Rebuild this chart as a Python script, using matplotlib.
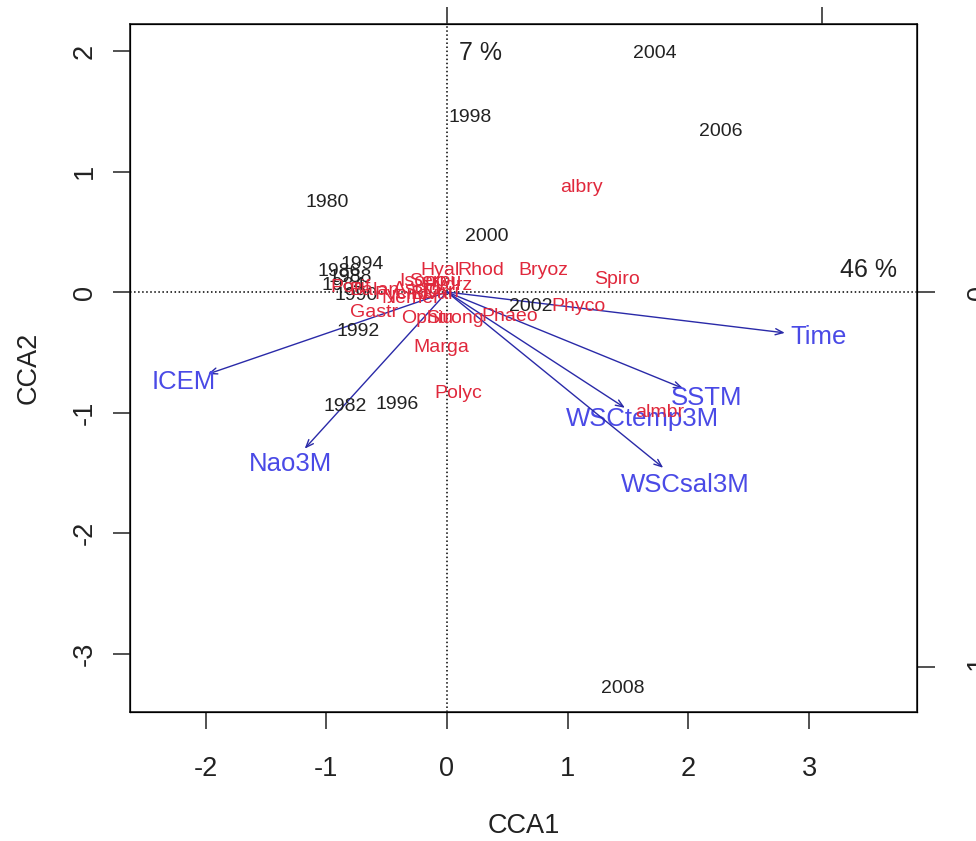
import numpy as np
import matplotlib
matplotlib.use('Agg')
import matplotlib.pyplot as plt

plt.rcParams['font.family'] = ['Liberation Sans', 'DejaVu Sans']
plt.rcParams['axes.unicode_minus'] = False

# site scores (years), CCA1 / CCA2
years = ['2004', '2006', '1998', '1980', '2000', '1994', '1986', '1988', '1984',
         '1990', '1992', '1982', '1996', '2002', '2008']
site_x = [1.72, 2.27, 0.19, -0.99, 0.33, -0.70, -0.89, -0.80, -0.86,
          -0.75, -0.74, -0.84, -0.41, 0.69, 1.46]
site_y = [1.98, 1.33, 1.45, 0.74, 0.46, 0.23, 0.17, 0.12, 0.05,
          -0.03, -0.33, -0.95, -0.93, -0.12, -3.29]

# species scores
species = ['albry', 'Bryoz', 'Spiro', 'Phyco', 'Rhod', 'Hyal', 'Isopo', 'Gastr',
           'Ophiu', 'Strong', 'Phaeo', 'Marga', 'Polyc', 'almbr',
           'Porif', 'Balan', 'Pycno', 'Ascid', 'Bival', 'Cirri', 'Hydrz', 'Nemer', 'Serpu']
spec_x = [1.11, 0.80, 1.41, 1.09, 0.28, -0.06, -0.20, -0.60,
          -0.16, 0.07, 0.52, -0.05, 0.09, 1.76,
          -0.80, -0.60, -0.38, -0.25, -0.13, -0.05, 0.00, -0.30, -0.10]
spec_y = [0.87, 0.18, 0.10, -0.12, 0.18, 0.18, 0.09, -0.17,
          -0.22, -0.22, -0.20, -0.46, -0.84, -1.00,
          0.04, 0.01, -0.02, 0.02, -0.02, 0.00, 0.05, -0.05, 0.09]

# environmental biplot scores (secondary axis units)
env = ['Time', 'SSTM', 'WSCtemp3M', 'WSCsal3M', 'ICEM', 'Nao3M']
env_x = [0.900, 0.629, 0.474, 0.576, -0.637, -0.379]
env_y = [-0.109, -0.257, -0.309, -0.469, -0.219, -0.418]
mul = 3.11

pct_labels = ['7 %', '46 %']
pct_x = [0.28, 3.49]
pct_y = [1.98, 0.18]

xlim = (-2.626, 3.894)
ylim = (-3.485, 2.224)

fig = plt.figure(figsize=(9.76, 8.41), dpi=100)
ax = fig.add_axes([130/976, 1-712/841, 787/976, 688/841])
ax.set_xlim(xlim)
ax.set_ylim(ylim)

ax.axhline(0, color='black', linestyle=':', linewidth=1.1)
ax.axvline(0, color='black', linestyle=':', linewidth=1.1)

for i in range(len(env)):
    ax.annotate('', xy=(env_x[i]*mul, env_y[i]*mul), xytext=(0, 0),
                arrowprops=dict(arrowstyle='->,head_length=0.55,head_width=0.22',
                                color='#2a2aa8', lw=1.0, shrinkA=0, shrinkB=0))
    ax.text(env_x[i]*mul*1.1, env_y[i]*mul*1.1, env[i], color='#4a4ae6',
            fontsize=18.5, ha='center', va='center')

for i in range(len(years)):
    ax.text(site_x[i], site_y[i], years[i], color='#222222', fontsize=14,
            ha='center', va='center')

for i in range(len(species)):
    ax.text(spec_x[i], spec_y[i], species[i], color='#e0283c', fontsize=14,
            ha='center', va='center')

for i in range(len(pct_labels)):
    ax.text(pct_x[i], pct_y[i], pct_labels[i], color='#222222', fontsize=18,
            ha='center', va='center')

ax.set_xticks([-2, -1, 0, 1, 2, 3])
ax.set_yticks([-3, -2, -1, 0, 1, 2])
ax.tick_params(axis='both', length=12, width=1.1, labelsize=19.5, colors='#222222')
ax.tick_params(axis='x', pad=20)
ax.tick_params(axis='y', pad=11, labelrotation=90)
for lab in ax.get_yticklabels():
    lab.set_va('center')
for s in ax.spines.values():
    s.set_linewidth(1.2)
    s.set_color('#222222')

ax.set_xlabel('CCA1', fontsize=19.5, color='#222222', labelpad=22)
ax.set_ylabel('CCA2', fontsize=19.5, color='#222222', labelpad=22)

# secondary axes for biplot arrows
axr = ax.twinx()
axr.set_ylim(ylim[0]/mul, ylim[1]/mul)
axr.set_yticks([-1, 0])
axr.tick_params(axis='y', length=13, width=1.1, labelsize=19.5, pad=22,
                labelrotation=90, colors='#222222')
for lab in axr.get_yticklabels():
    lab.set_va('center')

axt = ax.twiny()
axt.set_xlim(xlim[0]/mul, xlim[1]/mul)
axt.set_xticks([0, 1])
axt.tick_params(axis='x', length=12, width=1.1, labelsize=19.5, pad=20, colors='#222222')

plt.savefig('out.png', dpi=100)
